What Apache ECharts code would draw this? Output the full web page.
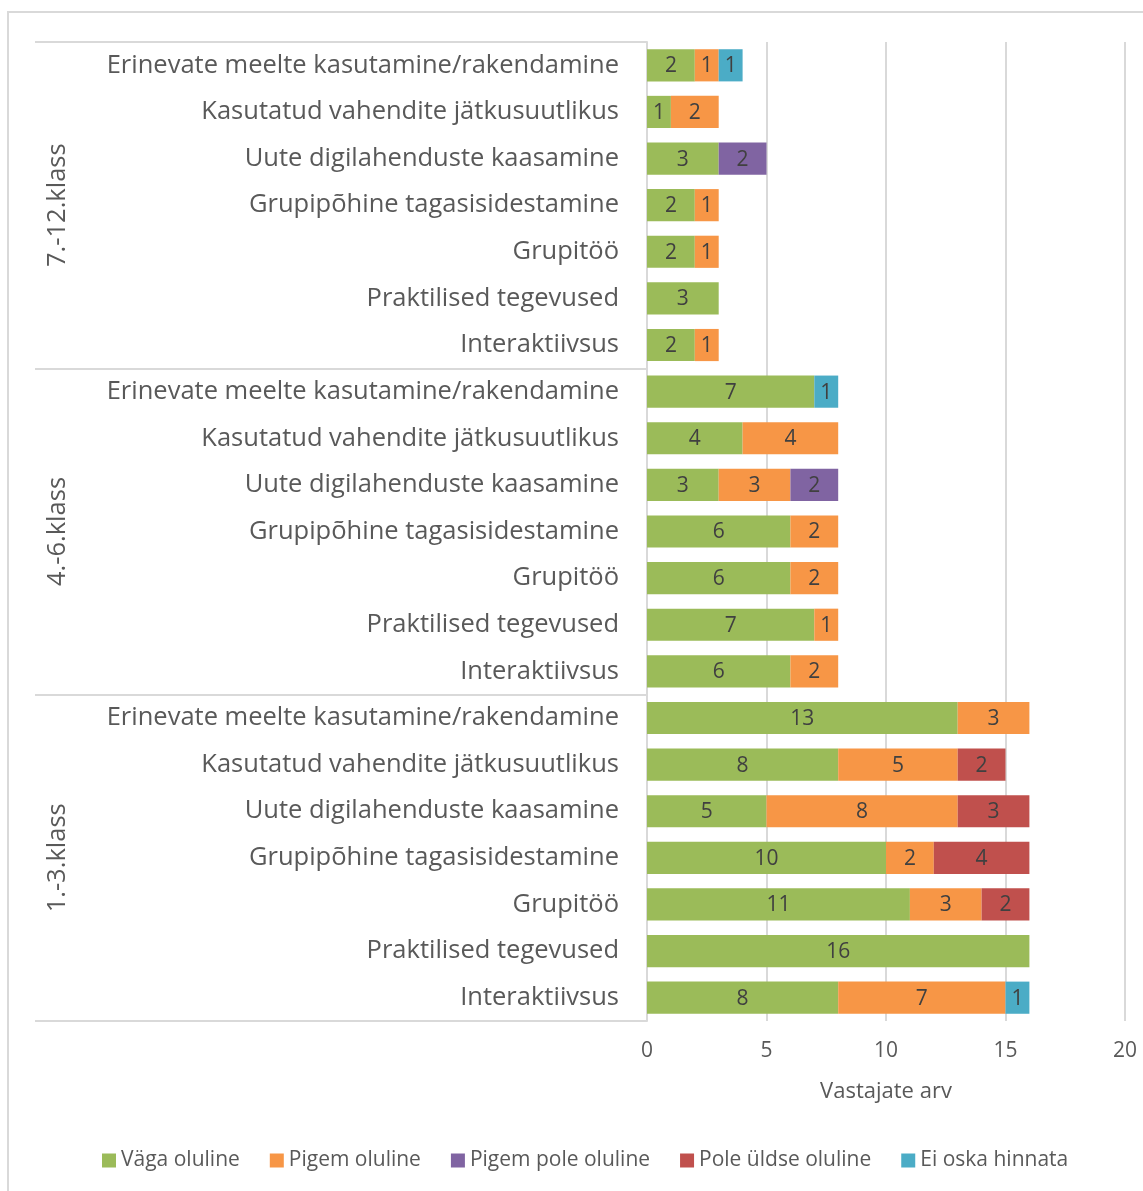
<!DOCTYPE html>
<html>
<head>
<meta charset="utf-8">
<script src="https://cdn.jsdelivr.net/npm/echarts@6/dist/echarts.min.js"></script>
<style>
  html, body { margin: 0; padding: 0; background: #ffffff; }
  #chart { width: 1143px; height: 1191px; }
</style>
</head>
<body>
<div id="chart"></div>
<script>
// Rows listed from top to bottom
const groups = ['7.-12.klass', '4.-6.klass', '1.-3.klass'];
const topics = [
  'Erinevate meelte kasutamine/rakendamine',
  'Kasutatud vahendite jätkusuutlikus',
  'Uute digilahenduste kaasamine',
  'Grupipõhine tagasisidestamine',
  'Grupitöö',
  'Praktilised tegevused',
  'Interaktiivsus'
];
const categories = groups.flatMap(() => topics);

const seriesNames = ['Väga oluline', 'Pigem oluline', 'Pigem pole oluline', 'Pole üldse oluline', 'Ei oska hinnata'];
const seriesColors = ['#9bbb59', '#f79646', '#8064a2', '#c0504d', '#4bacc6'];

const vagaOluline      = [2, 1, 3, 2, 2, 3, 2,   7, 4, 3, 6, 6, 7, 6,   13, 8, 5, 10, 11, 16, 8];
const pigemOluline     = [1, 2, 0, 1, 1, 0, 1,   0, 4, 3, 2, 2, 1, 2,    3, 5, 8,  2,  3,  0, 7];
const pigemPoleOluline = [0, 0, 2, 0, 0, 0, 0,   0, 0, 2, 0, 0, 0, 0,    0, 0, 0,  0,  0,  0, 0];
const poleUldseOluline = [0, 0, 0, 0, 0, 0, 0,   0, 0, 0, 0, 0, 0, 0,    0, 2, 3,  4,  2,  0, 0];
const eiOskaHinnata    = [1, 0, 0, 0, 0, 0, 0,   1, 0, 0, 0, 0, 0, 0,    0, 0, 0,  0,  0,  0, 1];

const xTicks = { min: 0, max: 20, interval: 5 };

const seriesValues = [vagaOluline, pigemOluline, pigemPoleOluline, poleUldseOluline, eiOskaHinnata];

const FONT = 'Open Sans';
const GRID_GRAY = '#d9d9d9';

const chart = echarts.init(document.getElementById('chart'), null, { renderer: 'canvas' });

const option = {
  backgroundColor: '#ffffff',
  animation: false,
  textStyle: { fontFamily: FONT },
  graphic: [{
    type: 'rect',
    silent: true,
    z: -10,
    shape: { x: 8, y: 12, width: 1400, height: 1400 },
    style: { fill: 'none', stroke: GRID_GRAY, lineWidth: 2 }
  }],
  grid: { left: 647, right: 18, top: 42, bottom: 170, containLabel: false },
  legend: {
    bottom: 15,
    left: 97,
    itemWidth: 14,
    itemHeight: 14,
    itemGap: 30,
    icon: 'rect',
    textStyle: { fontFamily: FONT, fontSize: 21, color: '#595959', padding: [0, 0, 0, 0] },
    data: seriesNames
  },
  xAxis: {
    type: 'value',
    min: xTicks.min,
    max: xTicks.max,
    interval: xTicks.interval,
    name: 'Vastajate arv',
    nameLocation: 'middle',
    nameGap: 60,
    nameTextStyle: { fontFamily: FONT, fontSize: 22, color: '#595959' },
    axisLine: { show: false },
    axisTick: { show: false },
    axisLabel: { fontFamily: FONT, fontSize: 21, color: '#595959', margin: 20 },
    splitLine: { show: true, lineStyle: { color: GRID_GRAY, width: 2 } }
  },
  yAxis: [{
    type: 'category',
    inverse: true,
    data: categories,
    position: 'left',
    axisLine: { show: true, lineStyle: { color: GRID_GRAY, width: 2 } },
    axisTick: { show: false },
    axisLabel: { fontFamily: FONT, fontSize: 25.5, color: '#595959', margin: 28, interval: 0 }
  }, {
    type: 'category',
    inverse: true,
    data: groups,
    position: 'left',
    axisLine: { show: false },
    axisTick: { show: true, length: 612, lineStyle: { color: GRID_GRAY, width: 2 } },
    axisLabel: { fontFamily: FONT, fontSize: 25.5, color: '#595959', rotate: 90, margin: 576, interval: 0 }
  }],
  series: seriesNames.map((name, i) => ({
    name,
    type: 'bar',
    stack: 'total',
    yAxisIndex: 0,
    barCategoryGap: '31%',
    itemStyle: { color: seriesColors[i] },
    label: {
      show: true,
      position: 'inside',
      offset: [0, 1],
      fontFamily: FONT,
      fontSize: 21,
      color: '#404040',
      formatter: p => (p.value ? String(p.value) : '')
    },
    data: seriesValues[i].map(v => (v === 0 ? null : v))
  }))
};

chart.setOption(option);
</script>
</body>
</html>
